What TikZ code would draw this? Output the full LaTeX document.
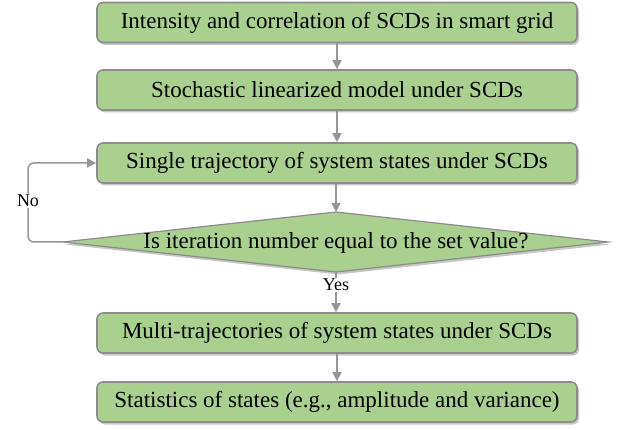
\documentclass[tikz,border=0pt]{standalone}
\usepackage{fontspec}
\setmainfont{Liberation Serif}
\usetikzlibrary{arrows.meta,shadows}
\definecolor{boxgreen}{RGB}{169,208,142}
\definecolor{edgegray}{RGB}{140,140,140}
\definecolor{arrgray}{RGB}{150,150,150}
\tikzset{
  stepbox/.style={draw=edgegray, line width=1.6pt, fill=boxgreen, rounded corners=6pt,
    minimum width=480pt, minimum height=40pt, inner sep=0pt, font=\fontsize{23}{26}\selectfont,
    drop shadow={shadow xshift=2pt, shadow yshift=-2.5pt, opacity=0.45, fill=gray}},
  decshape/.style={draw=edgegray, line width=1.2pt, fill=boxgreen,
    drop shadow={shadow xshift=2pt, shadow yshift=-2.5pt, opacity=0.45, fill=gray}},
  conn/.style={draw=arrgray, line width=1.5pt, -{Triangle[length=9pt,width=9pt]}},
  lbl/.style={fill=white, inner sep=1pt, font=\fontsize{18}{20}\selectfont}
}
\begin{document}
\begin{tikzpicture}[x=1pt,y=-1pt]
\useasboundingbox (0,0) rectangle (621,430);
\node[stepbox] (b1) at (337,22.5) {Intensity and correlation of SCDs in smart grid};
\node[stepbox] (b2) at (337,90) {Stochastic linearized model under SCDs};
\node[stepbox] (b3) at (337,163) {Single trajectory of system states under SCDs};
\path[decshape]
  (63,242) coordinate (dl) -- (336,212) coordinate (dt) -- (608,242) coordinate (dr) -- (336,272) coordinate (db) -- cycle;
\node[font=\fontsize{23}{26}\selectfont] (dtext) at (336,243) {Is iteration number equal to the set value?};
\node[stepbox] (b4) at (337,333) {Multi-trajectories of system states under SCDs};
\node[stepbox] (b5) at (337,402) {Statistics of states (e.g., amplitude and variance)};
\draw[conn] (b1) -- (b2);
\draw[conn] (b2) -- (b3);
\draw[conn] (b3.south -| dt) -- (dt);
\draw[conn] (db) -- (b4.north -| db);
\draw[conn] (b4) -- (b5);
\coordinate (lc) at (28,242);
\draw[conn, rounded corners=6pt] (dl) -- (lc) -- (lc |- b3.west) -- (b3.west);
\node[lbl] (no) at (28,201) {No};
\node[lbl] (yes) at (336,285) {Yes};
\end{tikzpicture}
\end{document}
